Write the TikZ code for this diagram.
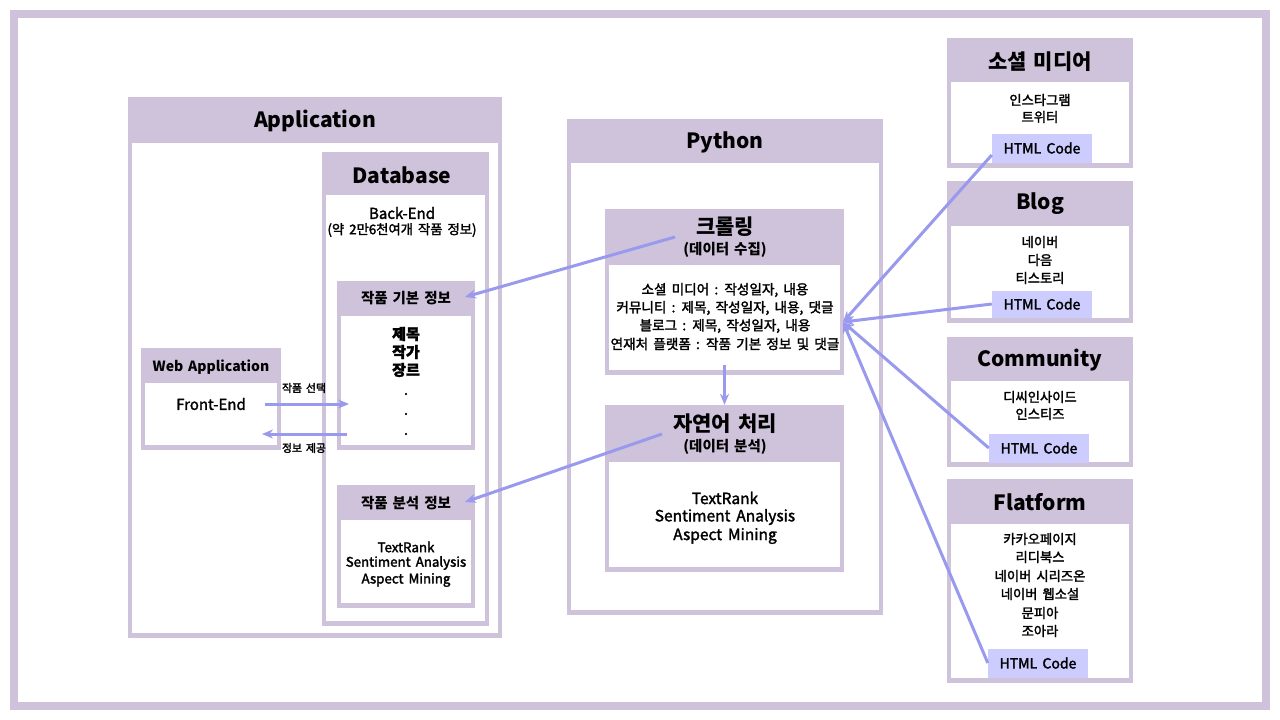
\documentclass[tikz,border=0pt]{standalone}
\usepackage{fontspec}
\setmainfont{Noto Sans CJK KR}[WordSpace=1.5]
\newfontfamily\medf{Noto Sans CJK KR}[WordSpace=1.7]
\newcommand\heavyon{\special{pdf:literal direct 2 Tr 0.28 w}}
\newcommand\heavyoff{\special{pdf:literal direct 0 Tr 0.4 w}}
\usetikzlibrary{arrows.meta,fit,calc}
\definecolor{frame}{RGB}{207,194,219}
\definecolor{arr}{RGB}{153,153,238}
\definecolor{htmlc}{RGB}{204,204,255}
\newcommand\pbox[6]{%
  \fill[frame] (#2,#3) rectangle (#4,#5);
  \fill[white] (#2+4,#6) rectangle (#4-4,#5-5);
  \node[fit={(#2,#3) (#4,#5)}, inner sep=0pt] (#1) {};
}
\begin{document}
\begin{tikzpicture}[x=1pt,y=-1pt,
  bigttl/.style={inner sep=0pt, font=\fontsize{21}{25}\selectfont\bfseries},
  midttl/.style={inner sep=0pt, font=\fontsize{14}{17}\selectfont\bfseries},
  subttl/.style={inner sep=0pt, font=\fontsize{14.5}{17}\selectfont\bfseries},
  heavy/.style={execute at begin node=\heavyon, execute at end node=\heavyoff},
  txt/.style={inner sep=0pt, heavy, font=\medf\fontsize{13.3}{15}\selectfont},
  crtxt/.style={inner sep=0pt, heavy, font=\medf\fontsize{13.6}{15}\selectfont},
  txtb/.style={inner sep=0pt, heavy, font=\medf\fontsize{15}{17}\selectfont},
  small/.style={inner sep=0pt, heavy, font=\medf\fontsize{10.8}{12}\selectfont},
  htmlbox/.style={fill=htmlc, minimum width=100pt, minimum height=29pt, inner sep=0pt, heavy, font=\medf\fontsize{14}{15}\selectfont},
  conn/.style={draw=arr, line width=3pt, -{Stealth[length=11pt,width=9pt]}}
]
\useasboundingbox (0,0) rectangle (1280,720);
\fill[white] (0,0) rectangle (1280,720);
\draw[frame, line width=8pt] (14,14) rectangle (1266,706);

% Application
\pbox{app}{128}{97}{502}{638}{143}
\node[bigttl] (appt) at (315,121) {Application};
\pbox{db}{322}{152}{489}{626}{195}
\node[bigttl] (dbt) at (402,175) {Database};
\node[txtb] (be1) at (402,213) {Back-End};
\node[txt] (be2) at (402,230) {(약 2만6천여개 작품 정보)};

\pbox{basic}{337}{281}{475}{450}{316}
\node[subttl] (basict) at (406,298) {작품 기본 정보};
\node[txtb] (b1) at (406,334) {\bfseries 제목};
\node[txtb] (b2) at (406,352) {\bfseries 작가};
\node[txtb] (b3) at (406,370) {\bfseries 장르};
\node[txtb] (b4) at (406,394) {.};
\node[txtb] (b5) at (406,414) {.};
\node[txtb] (b6) at (406,434) {.};

\pbox{anal}{337}{485}{475}{608}{520}
\node[subttl] (analt) at (406,503) {작품 분석 정보};
\node[txt] (a1) at (406,547) {TextRank};
\node[txt] (a2) at (406,563) {Sentiment Analysis};
\node[txt] (a3) at (406,580) {Aspect Mining};

\pbox{web}{141}{348}{281}{450}{383}
\node[midttl] (webt) at (211,367) {Web Application};
\node[txtb] (fe) at (211,404) {Front-End};
\node[small] (sel) at (304,388) {작품 선택};
\node[small] (giv) at (304,448) {정보 제공};

% Python
\pbox{py}{567}{119}{883}{615}{163}
\node[bigttl] (pyt) at (725,142) {Python};
\pbox{crawl}{605}{209}{844}{375}{265}
\node[bigttl] (crawlt) at (725,227) {크롤링};
\node[subttl] (crawls) at (725,250) {(데이터 수집)};
\node[crtxt] (c1) at (725,290) {소셜 미디어 : 작성일자,\ 내용};
\node[crtxt] (c2) at (725,308) {커뮤니티 : 제목, 작성일자,\ 내용, 댓글};
\node[crtxt] (c3) at (725,326) {블로그 : 제목, 작성일자,\ 내용};
\node[crtxt] (c4) at (725,344) {연재처 플랫폼 : 작품 기본 정보 및 댓글};

\pbox{nlp}{605}{405}{844}{572}{462}
\node[bigttl] (nlpt) at (725,424) {자연어 처리};
\node[subttl] (nlps) at (725,447) {(데이터 분석)};
\node[txtb] (n1) at (725,498) {\fontsize{15.5}{17}\selectfont TextRank};
\node[txtb] (n2) at (725,517) {\fontsize{15.5}{17}\selectfont Sentiment Analysis};
\node[txtb] (n3) at (725,536) {\fontsize{15.5}{17}\selectfont Aspect Mining};

% right boxes
\pbox{soc}{947}{38}{1133}{168}{82}
\node[bigttl] (soct) at (1040,62) {소셜 미디어};
\node[txt] (s1) at (1040,100) {인스타그램};
\node[txt] (s2) at (1040,117) {트위터};
\node[htmlbox] (h1) at (1042,148) {HTML\ Code};

\pbox{blog}{947}{181}{1133}{323}{226}
\node[bigttl] (blogt) at (1040,204) {Blog};
\node[txt] (l1) at (1040,242) {네이버};
\node[txt] (l2) at (1040,260) {다음};
\node[txt] (l3) at (1040,278) {티스토리};
\node[htmlbox, minimum height=27pt] (h2) at (1042,304) {HTML\ Code};

\pbox{comm}{947}{337}{1133}{467}{381}
\node[bigttl] (commt) at (1040,360) {Community};
\node[txt] (m1) at (1040,397) {디씨인사이드};
\node[txt] (m2) at (1040,414) {인스티즈};
\node[htmlbox] (h3) at (1039,448) {HTML\ Code};

\pbox{flat}{947}{479}{1133}{683}{524}
\node[bigttl] (flatt) at (1040,502) {Flatform};
\node[txt] (f1) at (1040,539) {카카오페이지};
\node[txt] (f2) at (1040,557) {리디북스};
\node[txt] (f3) at (1040,576) {네이버\ 시리즈온};
\node[txt] (f4) at (1040,594) {네이버\ 웹소설};
\node[txt] (f5) at (1040,613) {문피아};
\node[txt] (f6) at (1040,631) {조아라};
\node[htmlbox] (h4) at (1038,663) {HTML\ Code};

% connectors
\coordinate (crin) at (843,322);
\draw[conn] ($(h1.west)+(0,7)$) -- (crin);
\draw[conn] (h2.west) -- (crin);
\draw[conn] (h3.west) -- (crin);
\draw[conn] (h4.west) -- (crin);

\coordinate (cfrom) at (675,237);
\coordinate (bto) at (465,297);
\draw[conn] (cfrom) -- (bto);
\coordinate (nfrom) at (662,434);
\coordinate (ato) at (465,502);
\draw[conn] (nfrom) -- (ato);
\draw[conn] ($(crawl.south)+(0,-10)$) -- (nlp.north);

\coordinate (fe1) at (265,404);
\coordinate (fe2) at (349,404);
\draw[conn] (fe1) -- (fe2);
\coordinate (ba1) at (347,434);
\coordinate (ba2) at (262,434);
\draw[conn] (ba1) -- (ba2);
\end{tikzpicture}
\end{document}
